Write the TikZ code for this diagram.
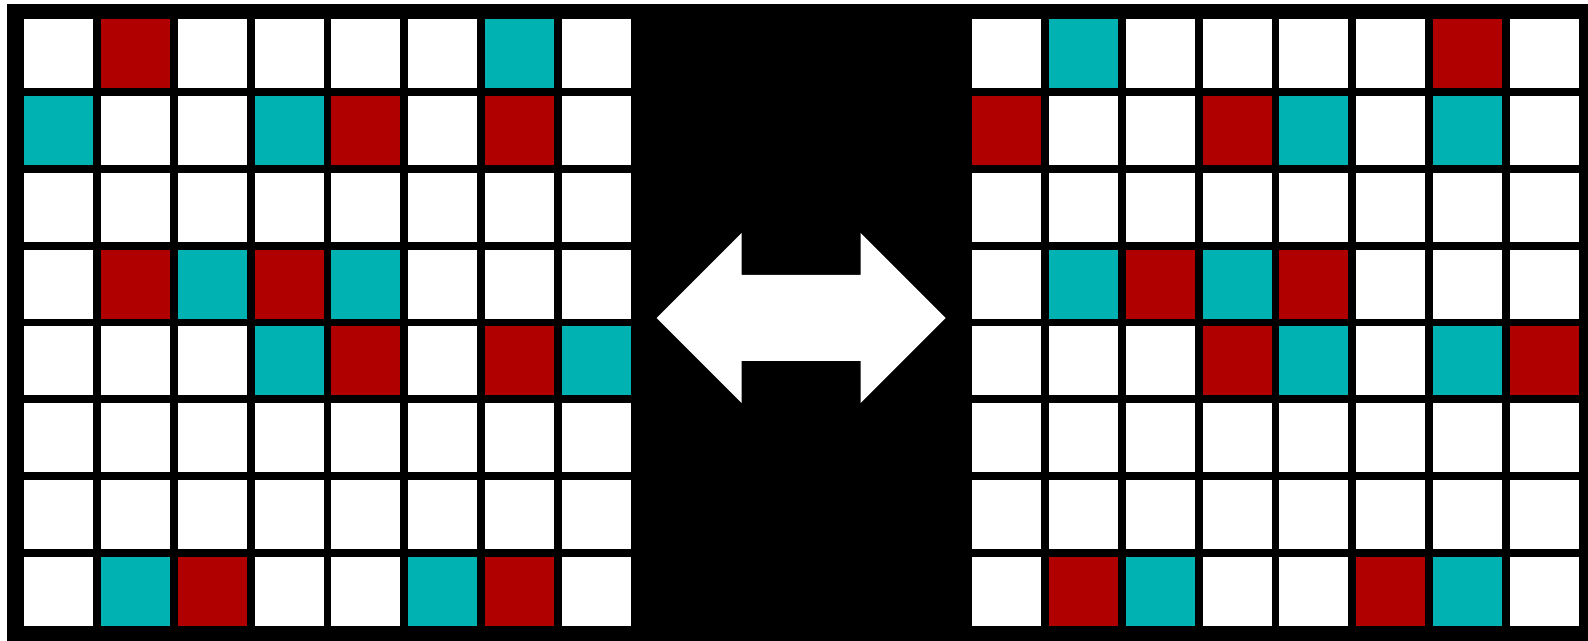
\documentclass[tikz,border=0pt]{standalone}
\usetikzlibrary{calc}
\definecolor{cellred}{RGB}{176,0,0}
\definecolor{cellteal}{RGB}{0,178,178}
\tikzset{
    board/.style={fill=black,draw=none},
    cell/.style={fill=white,draw=none},
    swaparrow/.style={fill=white,draw=none}
}
\newcommand{\cellpitch}{76.86}
\newcommand{\cellsize}{69}

\begin{document}
\begin{tikzpicture}[x=0.02cm,y=-0.02cm]
    % Frame
    \useasboundingbox (0,0) rectangle (1588,641);
    \fill[white] (0,0) rectangle (1588,641);
    \fill[board] (7,4) rectangle (1588,641);
    % Empty cells of both grids
    \foreach \gx in {24,972} {
        \foreach \r in {0,...,7} {
            \foreach \c in {0,...,7} {
                \fill[cell] ({\gx+\c*\cellpitch},{19+\r*\cellpitch}) rectangle ++(\cellsize,\cellsize);
            }
        }
    }
    % Coloured cells: left grid, then right grid with colours swapped
    \foreach \gx/\cola/\colb in {24/cellred/cellteal,972/cellteal/cellred} {
        \foreach \r/\c in {0/1,1/4,1/6,3/1,3/3,4/4,4/6,7/2,7/6}
            \fill[\cola] ({\gx+\c*\cellpitch},{19+\r*\cellpitch}) rectangle ++(\cellsize,\cellsize);
        \foreach \r/\c in {0/6,1/0,1/3,3/2,3/4,4/3,4/7,7/1,7/5}
            \fill[\colb] ({\gx+\c*\cellpitch},{19+\r*\cellpitch}) rectangle ++(\cellsize,\cellsize);
    }
    % Double arrow
    \coordinate (mid) at (801.5,318);
    \fill[swaparrow] ($(mid)+(-145,0)$) -- ++(85,-85) -- ++(0,42) -- ++(119,0) -- ++(0,-42)
        -- ++(85,85) -- ++(-85,85) -- ++(0,-42) -- ++(-119,0) -- ++(0,42) -- cycle;
\end{tikzpicture}
\end{document}
